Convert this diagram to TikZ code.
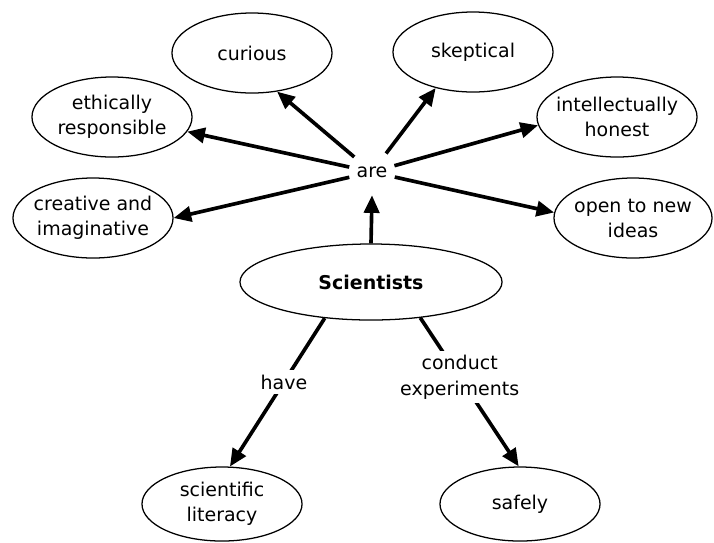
\documentclass[tikz,border=0pt]{standalone}
\usepackage{fontspec}
\setmainfont{DejaVu Sans}
\usetikzlibrary{shapes.geometric,arrows.meta}

\begin{document}
\begin{tikzpicture}[x=0.025cm,y=-0.025cm,font=\fontsize{13.5}{17.8}\selectfont,
  trait/.style={ellipse,draw,line width=0.9pt,minimum width=4cm,minimum height=2cm,align=center,inner sep=0pt,inner xsep=-8pt},
  arr/.style={-{Triangle[length=4.4mm,width=3.8mm]},line width=2.6pt},
  lnk/.style={fill=white,align=center,inner sep=3pt}]
\useasboundingbox (0,0) rectangle (714,542);
% the hub
\node[ellipse,draw,line width=0.9pt,minimum width=6.55cm,minimum height=1.9cm] (sci) at (371,282) {\textbf{Scientists}};
\node[circle,minimum size=1.15cm,inner sep=0pt] (are) at (372,172) {are};
% what scientists are
\node[trait] (curious) at (252,53) {curious};
\node[trait] (skept) at (473,52) {skeptical};
\node[trait] (ethic) at (112,117) {ethically\\responsible};
\node[trait] (intel) at (617,117) {intellectually\\honest};
\node[trait] (creat) at (93,218) {creative and\\imaginative};
\node[trait,minimum width=3.95cm] (open) at (633,218) {open to new\\ideas};
% bottom row
\node[trait,minimum height=1.85cm] (lit) at (222,504) {scientific\\literacy};
\node[trait,minimum height=1.85cm] (safe) at (520,504) {safely};
\draw[arr] (sci.north) -- (are.south);
\draw[arr] (are) -- (curious.-57);
\draw[arr] (are) -- (skept.224);
\draw[arr] (are) -- (ethic.-11);
\draw[arr] (are) -- (intel.186);
\draw[arr] (are) -- (creat.east);
\draw[arr] (are) -- (open.176);
\draw[arr] (sci.218) -- node[lnk,pos=0.43]{have} (lit.78);
\draw[arr] (sci.-36) -- node[lnk,pos=0.4]{conduct\\experiments} (safe.92);
\end{tikzpicture}
\end{document}
